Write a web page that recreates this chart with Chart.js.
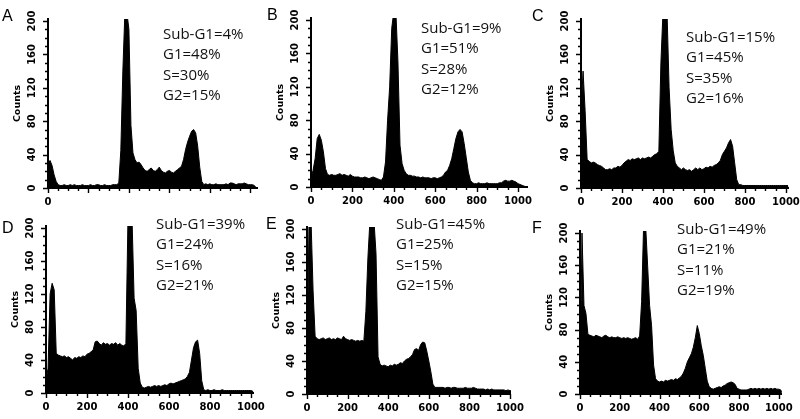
<!DOCTYPE html>
<html>
<head>
<meta charset="utf-8">
<script src="https://cdn.jsdelivr.net/npm/chart.js@4.4.0/dist/chart.umd.min.js"></script>
<style>
  html, body { margin: 0; padding: 0; background: #fff; }
  #fig { position: relative; width: 800px; height: 419px; overflow: hidden; }
  #fig canvas { position: absolute; }
  .tag { position: absolute; font: 16px "Liberation Sans", Arial, sans-serif; line-height: 18px; color: #000; }
  .stats { position: absolute; font: 15px "Open Sans", sans-serif; line-height: 20.4px; color: #111; white-space: nowrap; }
</style>
</head>
<body>
<div id="fig"></div>
<script>
// DNA content channels (bin centres, 10 channels per bin)
const channels = [
  0, 10, 20, 30, 40, 50, 60, 70, 80, 90,
  100, 110, 120, 130, 140, 150, 160, 170, 180, 190,
  200, 210, 220, 230, 240, 250, 260, 270, 280, 290,
  300, 310, 320, 330, 340, 350, 360, 370, 380, 390,
  400, 410, 420, 430, 440, 450, 460, 470, 480, 490,
  500, 510, 520, 530, 540, 550, 560, 570, 580, 590,
  600, 610, 620, 630, 640, 650, 660, 670, 680, 690,
  700, 710, 720, 730, 740, 750, 760, 770, 780, 790,
  800, 810, 820, 830, 840, 850, 860, 870, 880, 890,
  900, 910, 920, 930, 940, 950, 960, 970, 980, 990,
  1000, 1010, 1020, 1030, 1040
];

const countsA = [
  28, 33, 27, 16, 8, 4, 3, 3, 4, 3,
  3, 4, 3, 4, 3, 3, 3, 4, 3, 3,
  3, 4, 3, 3, 4, 4, 3, 3, 4, 3,
  3, 3, 4, 4, 4, 6, 45, 140, 210, 210,
  190, 75, 42, 34, 30, 31, 28, 24, 21, 20,
  22, 24, 21, 20, 22, 25, 21, 19, 18, 20,
  21, 19, 18, 20, 22, 24, 26, 34, 46, 55,
  62, 68, 70, 66, 50, 25, 8, 4, 5, 4,
  5, 4, 4, 5, 4, 4, 4, 4, 5, 4,
  6, 6, 5, 4, 5, 5, 5, 6, 5, 4,
  4, 4, 3, 0, 0
];

const countsB = [
  10, 20, 34, 58, 63, 56, 42, 22, 15, 14,
  15, 14, 14, 15, 16, 14, 15, 14, 13, 15,
  13, 12, 12, 12, 11, 11, 12, 11, 10, 11,
  12, 11, 10, 9, 8, 12, 30, 80, 120, 190,
  210, 210, 150, 50, 28, 20, 16, 14, 14, 13,
  13, 12, 12, 11, 12, 11, 11, 11, 10, 11,
  11, 10, 11, 12, 14, 18, 20, 26, 34, 46,
  58, 66, 69, 66, 52, 35, 18, 8, 5, 4,
  4, 5, 4, 4, 4, 5, 4, 4, 4, 4,
  4, 5, 5, 7, 8, 7, 7, 8, 7, 6,
  4, 3, 2, 1, 0
];

const countsC = [
  88, 140, 93, 34, 32, 30, 31, 30, 28, 27,
  26, 24, 22, 22, 23, 22, 24, 24, 26, 25,
  27, 30, 32, 34, 33, 35, 34, 35, 36, 34,
  36, 35, 36, 37, 36, 38, 40, 41, 44, 150,
  210, 210, 210, 120, 70, 45, 30, 26, 24, 22,
  24, 22, 21, 22, 20, 22, 24, 22, 24, 22,
  23, 25, 24, 26, 25, 27, 28, 30, 33, 40,
  44, 48, 54, 58, 50, 30, 10, 4, 4, 3,
  3, 3, 3, 3, 3, 3, 3, 3, 3, 3,
  3, 3, 3, 3, 3, 3, 3, 3, 3, 3,
  3, 3, 0, 0, 0
];

const countsD = [
  15, 30, 120, 133, 125, 48, 46, 45, 44, 45,
  43, 44, 42, 40, 43, 42, 44, 43, 45, 44,
  47, 48, 50, 52, 62, 63, 60, 58, 61, 59,
  60, 58, 60, 59, 61, 58, 60, 58, 57, 60,
  210, 210, 210, 115, 100, 30, 12, 7, 6, 7,
  8, 7, 8, 9, 8, 9, 8, 9, 10, 9,
  11, 12, 11, 12, 13, 14, 15, 16, 17, 20,
  25, 40, 55, 62, 64, 48, 15, 4, 3, 4,
  3, 3, 4, 3, 3, 3, 4, 3, 3, 3,
  3, 3, 3, 3, 3, 3, 3, 3, 3, 3,
  3, 2, 0, 0, 0
];

const countsE = [
  30, 210, 210, 125, 70, 67, 66, 67, 68, 66,
  67, 68, 66, 67, 66, 68, 67, 66, 70, 67,
  66, 65, 66, 65, 64, 65, 64, 65, 64, 100,
  165, 210, 210, 210, 170, 45, 36, 34, 35, 34,
  33, 35, 34, 36, 35, 36, 38, 37, 40, 42,
  43, 45, 48, 54, 55, 53, 60, 63, 62, 52,
  40, 27, 12, 8, 8, 8, 8, 8, 7, 8,
  8, 7, 8, 8, 7, 7, 7, 7, 8, 7,
  7, 7, 8, 7, 6, 6, 6, 6, 5, 6,
  5, 6, 5, 5, 5, 5, 5, 5, 4, 5,
  4, 4, 0, 0, 0
];

const countsF = [
  6, 200, 110, 100, 74, 73, 72, 71, 73, 72,
  71, 70, 72, 73, 71, 70, 71, 70, 70, 71,
  70, 69, 70, 69, 70, 69, 68, 69, 70, 68,
  72, 115, 210, 210, 160, 110, 85, 36, 19, 16,
  15, 16, 15, 17, 16, 17, 18, 17, 19, 18,
  20, 22, 26, 32, 40, 45, 50, 58, 70, 85,
  75, 60, 48, 32, 16, 9, 7, 6, 7, 8,
  9, 8, 10, 11, 13, 14, 15, 14, 12, 7,
  6, 5, 5, 5, 5, 6, 7, 6, 7, 6,
  7, 6, 7, 6, 7, 6, 7, 6, 7, 6,
  6, 5, 0, 0, 0
];

const statsA = ['Sub-G1=4%', 'G1=48%', 'S=30%', 'G2=15%'];
const statsB = ['Sub-G1=9%', 'G1=51%', 'S=28%', 'G2=12%'];
const statsC = ['Sub-G1=15%', 'G1=45%', 'S=35%', 'G2=16%'];
const statsD = ['Sub-G1=39%', 'G1=24%', 'S=16%', 'G2=21%'];
const statsE = ['Sub-G1=45%', 'G1=25%', 'S=15%', 'G2=15%'];
const statsF = ['Sub-G1=49%', 'G1=21%', 'S=11%', 'G2=19%'];

// labelled ticks
const xTicks = [0, 200, 400, 600, 800, 1000];
const yTicks = [0, 40, 80, 120, 160, 200];

// where each panel sits on the page (pixels)
const panels = [
  { tag: 'A', counts: countsA, stats: statsA, onlyZero: true,
    x0: 48, ppu: 0.2023, xmax: 1032, y0: 188, y200: 21, tagPos: [2, 7], textPos: [163, 23] },
  { tag: 'B', counts: countsB, stats: statsB,
    x0: 311, ppu: 0.207, xmax: 1043, y0: 187, y200: 20, tagPos: [267, 6], textPos: [421, 17] },
  { tag: 'C', counts: countsC, stats: statsC,
    x0: 581, ppu: 0.2067, xmax: 1012, y0: 188, y200: 21, tagPos: [532, 7], textPos: [686, 26] },
  { tag: 'D', counts: countsD, stats: statsD,
    x0: 46, ppu: 0.2067, xmax: 1010, y0: 393, y200: 228, tagPos: [2, 219], textPos: [156, 213] },
  { tag: 'E', counts: countsE, stats: statsE,
    x0: 307, ppu: 0.206, xmax: 1007, y0: 394, y200: 229, tagPos: [266, 215], textPos: [396, 213] },
  { tag: 'F', counts: countsF, stats: statsF,
    x0: 580, ppu: 0.2, xmax: 1015, y0: 394, y200: 233, tagPos: [532, 219], textPos: [677, 218] }
];

const YW = 48, PT = 14, PR = 18, XH = 26, YMAX = 202;
const tickFont = { family: 'DejaVu Sans', size: 10, weight: 'bold' };

// major + minor tick marks on both axes
const axisTicks = {
  id: 'axisTicks',
  afterDraw(chart) {
    const { ctx, chartArea } = chart;
    const x = chart.scales.x, y = chart.scales.y;
    ctx.save();
    ctx.strokeStyle = '#000';
    ctx.lineWidth = 1.4;
    ctx.beginPath();
    for (let v = 0; v <= x.max; v += 50) {
      const px = Math.round(x.getPixelForValue(v)) + 0.5;
      const len = xTicks.includes(v) ? 5 : 3;
      ctx.moveTo(px, chartArea.bottom);
      ctx.lineTo(px, chartArea.bottom + len);
    }
    for (let v = 0; v <= 200; v += 10) {
      const py = Math.round(y.getPixelForValue(v)) + 0.5;
      const len = yTicks.includes(v) ? 5 : 3;
      ctx.moveTo(chartArea.left, py);
      ctx.lineTo(chartArea.left - len, py);
    }
    ctx.stroke();
    ctx.restore();
  }
};

const fig = document.getElementById('fig');

panels.forEach(p => {
  const ppy = (p.y0 - p.y200) / 200;
  const aw = Math.round(p.xmax * p.ppu);
  const ah = Math.round(YMAX * ppy);

  const canvas = document.createElement('canvas');
  canvas.width = YW + aw + PR;
  canvas.height = PT + ah + XH;
  canvas.style.left = (p.x0 - YW) + 'px';
  canvas.style.top = (p.y0 - ah - PT) + 'px';
  fig.appendChild(canvas);

  new Chart(canvas, {
    type: 'line',
    data: {
      datasets: [{
        data: channels.map((c, i) => ({ x: c, y: p.counts[i] })),
        fill: 'origin',
        backgroundColor: '#000',
        borderColor: '#000',
        borderWidth: 1,
        pointRadius: 0,
        tension: 0
      }]
    },
    options: {
      responsive: false,
      animation: false,
      devicePixelRatio: 1,
      layout: { padding: { top: PT, right: PR, left: 0, bottom: 0 } },
      plugins: { legend: { display: false }, tooltip: { enabled: false } },
      scales: {
        x: {
          type: 'linear', min: 0, max: aw / p.ppu,
          grid: { display: false, drawTicks: false },
          border: { display: true, color: '#000', width: 2 },
          afterBuildTicks: s => { s.ticks = xTicks.map(v => ({ value: v })); },
          ticks: {
            autoSkip: false, maxRotation: 0, padding: 8, color: '#000', font: tickFont,
            callback: v => (p.onlyZero && v !== 0) ? '' : String(v)
          },
          afterFit: s => { s.height = XH; }
        },
        y: {
          min: 0, max: ah / ppy,
          grid: { display: false, drawTicks: false },
          border: { display: true, color: '#000', width: 2 },
          afterBuildTicks: s => { s.ticks = yTicks.map(v => ({ value: v })); },
          ticks: {
            autoSkip: false, minRotation: 90, maxRotation: 90, crossAlign: 'center',
            padding: 5, color: '#000', font: tickFont,
            callback: v => String(v)
          },
          title: {
            display: true, text: 'Counts', color: '#000',
            font: { family: 'DejaVu Sans', size: 9.5, weight: 'bold' },
            padding: { top: 12, bottom: 0 }
          },
          afterFit: s => { s.width = YW; }
        }
      }
    },
    plugins: [axisTicks]
  });

  const tag = document.createElement('div');
  tag.className = 'tag';
  tag.textContent = p.tag;
  tag.style.left = p.tagPos[0] + 'px';
  tag.style.top = p.tagPos[1] + 'px';
  fig.appendChild(tag);

  const stats = document.createElement('div');
  stats.className = 'stats';
  stats.innerHTML = p.stats.join('<br>');
  stats.style.left = p.textPos[0] + 'px';
  stats.style.top = p.textPos[1] + 'px';
  fig.appendChild(stats);
});
</script>
</body>
</html>
